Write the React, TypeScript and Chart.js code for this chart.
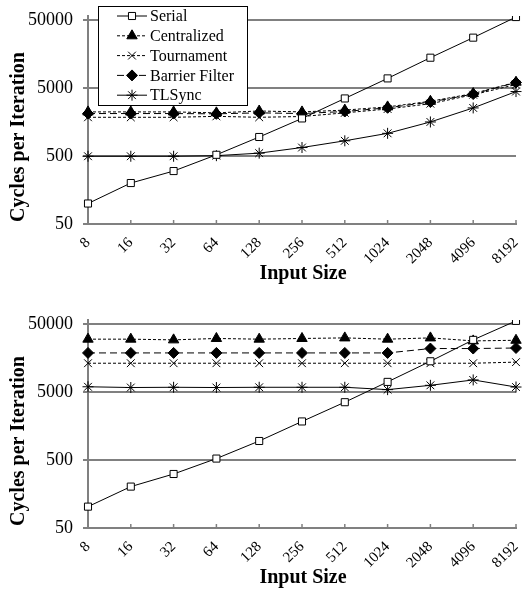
import React, { useEffect, useRef } from 'react';
import { Chart, registerables } from 'chart.js';
import { drawPoint } from 'chart.js/helpers';

Chart.register(...registerables);

const categories = ['8', '16', '32', '64', '128', '256', '512', '1024', '2048', '4096', '8192'];
const yTickValues = [50, 500, 5000, 50000];
const seriesNames = ['Serial', 'Centralized', 'Tournament', 'Barrier Filter', 'TLSync'];

// Top chart
const serialA = [100, 200, 300, 520, 950, 1780, 3500, 6900, 13900, 27400, 55000];
const centralizedA = [2220, 2220, 2220, 2150, 2290, 2220, 2360, 2630, 3180, 4130, 6070];
const tournamentA = [1850, 1850, 1850, 1910, 1850, 1900, 2150, 2450, 2930, 3970, 5600];
const barrierA = [2100, 2100, 2100, 2080, 2150, 2100, 2250, 2550, 3100, 4060, 6000];
const tlsyncA = [495, 495, 495, 505, 550, 665, 835, 1075, 1580, 2540, 4420];

// Bottom chart
const serialB = [103, 203, 311, 524, 950, 1840, 3530, 7020, 14100, 29100, 55300];
const centralizedB = [29800, 29800, 29100, 30500, 29800, 30500, 31100, 29800, 31100, 28100, 28700];
const tournamentB = [13200, 13200, 13200, 13200, 13200, 13200, 13200, 13200, 13200, 13200, 13700];
const barrierB = [18700, 18700, 18700, 18700, 18700, 18700, 18700, 18700, 21700, 21700, 22100];
const tlsyncB = [5950, 5800, 5850, 5800, 5850, 5850, 5850, 5400, 6250, 7500, 5900];

const SERIF = '"Liberation Serif", "Times New Roman", serif';
const GRAY = '#808080';
const CW = 523;
const CH = 287;

const styles = [
  { borderDash: [] as number[], pointStyle: 'rect', pointRadius: 5, fill: '#ffffff' },
  { borderDash: [3, 2], pointStyle: 'triangle', pointRadius: 6, fill: '#000000' },
  { borderDash: [3, 2], pointStyle: 'crossRot', pointRadius: 5.5, fill: '#000000' },
  { borderDash: [7, 4], pointStyle: 'rectRot', pointRadius: 5.5, fill: '#000000' },
  { borderDash: [] as number[], pointStyle: 'star', pointRadius: 5.5, fill: '#000000' },
];

function buildDatasets(series: number[][]) {
  return series.map((d, i) => ({
    label: seriesNames[i],
    data: d,
    borderColor: '#000000',
    borderWidth: 1,
    borderDash: styles[i].borderDash,
    pointStyle: styles[i].pointStyle,
    pointRadius: styles[i].pointRadius,
    pointBackgroundColor: styles[i].fill,
    pointBorderColor: '#000000',
    pointBorderWidth: 1,
    tension: 0,
    fill: false,
  }));
}

const titlesPlugin = {
  id: 'customTitles',
  afterDraw(chart: any) {
    const ctx = chart.ctx;
    ctx.save();
    ctx.fillStyle = '#000';
    ctx.font = `bold 20px ${SERIF}`;
    ctx.textAlign = 'center';
    ctx.textBaseline = 'middle';
    ctx.translate(19, 137);
    ctx.rotate(-Math.PI / 2);
    ctx.fillText('Cycles per Iteration', 0, 0);
    ctx.restore();
    ctx.save();
    ctx.fillStyle = '#000';
    ctx.font = `bold 20px ${SERIF}`;
    ctx.textAlign = 'center';
    ctx.textBaseline = 'middle';
    ctx.fillText('Input Size', 303, 274);
    ctx.restore();
  },
};

const innerTicksPlugin = {
  id: 'innerTicks',
  beforeDatasetsDraw(chart: any) {
    const ctx = chart.ctx;
    const xs = chart.scales.x;
    const bottom = chart.chartArea.bottom;
    ctx.save();
    ctx.strokeStyle = GRAY;
    ctx.lineWidth = 1.5;
    for (let i = 0; i < xs.ticks.length; i++) {
      const px = xs.getPixelForTick(i);
      ctx.beginPath();
      ctx.moveTo(px, bottom);
      ctx.lineTo(px, bottom - 4);
      ctx.stroke();
    }
    ctx.restore();
  },
};

const legendPlugin = {
  id: 'boxLegend',
  afterDraw(chart: any) {
    const ctx = chart.ctx;
    const left = 98.5, top = 6.5, w = 149, h = 99;
    ctx.save();
    ctx.fillStyle = '#ffffff';
    ctx.fillRect(left, top, w, h);
    ctx.strokeStyle = '#000';
    ctx.lineWidth = 1;
    ctx.strokeRect(left, top, w, h);
    ctx.font = `16px ${SERIF}`;
    ctx.textAlign = 'left';
    ctx.textBaseline = 'middle';
    chart.data.datasets.forEach((ds: any, i: number) => {
      const y = 16 + i * 19.8;
      ctx.save();
      ctx.strokeStyle = '#000';
      ctx.lineWidth = 1;
      ctx.setLineDash(ds.borderDash || []);
      ctx.beginPath();
      ctx.moveTo(117, y);
      ctx.lineTo(147, y);
      ctx.stroke();
      ctx.setLineDash([]);
      ctx.fillStyle = ds.pointBackgroundColor;
      ctx.strokeStyle = '#000';
      drawPoint(ctx, { pointStyle: ds.pointStyle, rotation: 0, radius: ds.pointRadius, borderWidth: 1 }, 132, y);
      ctx.restore();
      ctx.fillStyle = '#000';
      ctx.fillText(ds.label, 150, y + 1);
    });
    ctx.restore();
  },
};

function makeConfig(series: number[][], withLegend: boolean): any {
  const plugins: any[] = [innerTicksPlugin, titlesPlugin];
  if (withLegend) plugins.push(legendPlugin);
  return {
    type: 'line',
    data: { labels: categories, datasets: buildDatasets(series) },
    plugins,
    options: {
      responsive: false,
      animation: false,
      devicePixelRatio: 1,
      layout: { padding: { left: 0, right: 5, top: 16, bottom: 0 } },
      plugins: { legend: { display: false }, tooltip: { enabled: false }, title: { display: false } },
      scales: {
        x: {
          type: 'category',
          offset: false,
          grid: { drawOnChartArea: false, drawTicks: true, tickLength: 6, color: 'rgba(0,0,0,0)' },
          border: { display: true, color: GRAY, width: 2 },
          ticks: {
            autoSkip: false,
            maxRotation: 45,
            minRotation: 45,
            padding: 4,
            color: '#000',
            font: { family: SERIF, size: 15 },
          },
          afterFit(scale: any) {
            scale.height = CH - 224;
            scale.paddingLeft = 0;
            scale.paddingRight = 0;
          },
        },
        y: {
          type: 'logarithmic',
          min: 50,
          max: 57000,
          grid: { color: GRAY, lineWidth: 2, drawTicks: true, tickLength: 5 },
          border: { display: true, color: GRAY, width: 2 },
          ticks: {
            color: '#000',
            padding: 10,
            font: { family: SERIF, size: 18 },
            callback: (v: any) => String(v),
          },
          afterBuildTicks(scale: any) {
            scale.ticks = yTickValues.map((v) => ({ value: v }));
          },
          afterFit(scale: any) {
            scale.width = 88;
            scale.paddingTop = 0;
            scale.paddingBottom = 0;
          },
        },
      },
    },
  };
}

function LineChart({ series, withLegend, top }: { series: number[][]; withLegend: boolean; top: number }) {
  const ref = useRef<HTMLCanvasElement>(null);
  useEffect(() => {
    if (!ref.current) return;
    const chart = new Chart(ref.current, makeConfig(series, withLegend));
    return () => chart.destroy();
  }, [series, withLegend]);
  return (
    <canvas
      ref={ref}
      width={CW}
      height={CH}
      style={{ position: 'absolute', left: 0, top, width: CW, height: CH, display: 'block' }}
    />
  );
}

const topSeries = [serialA, centralizedA, tournamentA, barrierA, tlsyncA];
const bottomSeries = [serialB, centralizedB, tournamentB, barrierB, tlsyncB];

export default function App() {
  return (
    <div style={{ position: 'absolute', left: 0, top: 0, width: CW, height: 591, background: '#fff' }}>
      <LineChart series={topSeries} withLegend={true} top={0} />
      <LineChart series={bottomSeries} withLegend={false} top={304} />
    </div>
  );
}
